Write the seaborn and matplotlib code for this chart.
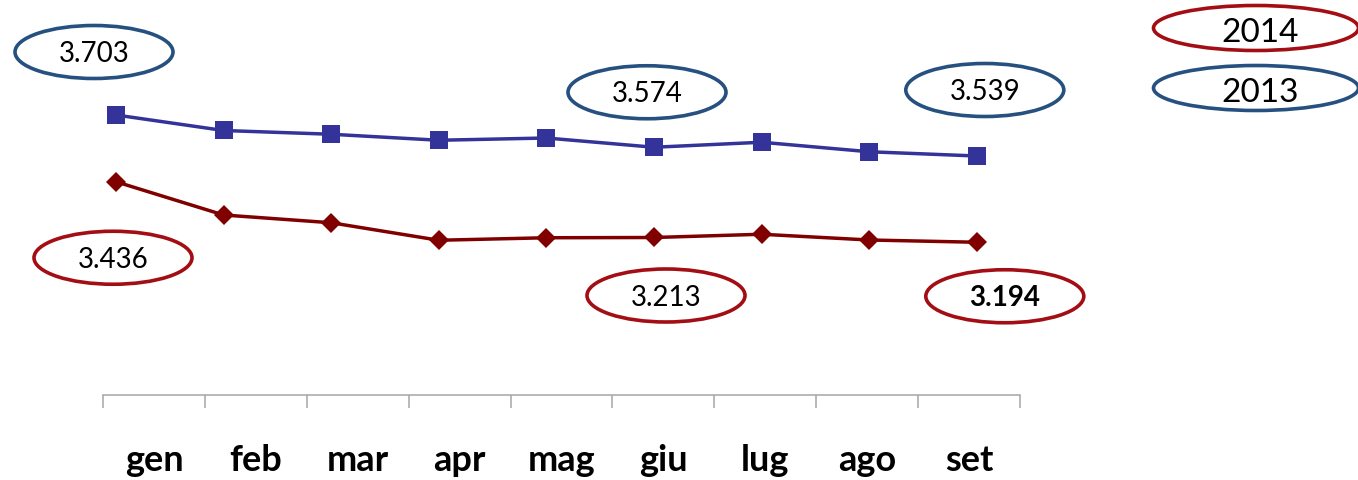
import matplotlib
matplotlib.use("Agg")
import matplotlib.pyplot as plt
import pandas as pd
import seaborn as sns
from matplotlib.patches import Ellipse
from matplotlib.transforms import Affine2D, ScaledTranslation

# ---- data -------------------------------------------------------------
months = ["gen", "feb", "mar", "apr", "mag", "giu", "lug", "ago", "set"]
values_2013 = [3.703, 3.641, 3.626, 3.602, 3.611, 3.574, 3.594, 3.556, 3.539]
values_2014 = [3.436, 3.303, 3.272, 3.202, 3.212, 3.213, 3.226, 3.203, 3.194]
years = ["2014", "2013"]

# ---- style ------------------------------------------------------------
BLUE_LINE = "#333399"
RED_LINE = "#800000"
BLUE_OVAL = "#25507F"
RED_OVAL = "#A30E14"
AXIS_GREY = "#A6A6A6"

sns.set_theme(style="white")
plt.rcParams["font.family"] = ["Lato", "DejaVu Sans"]

W, H = 1358, 480
fig = plt.figure(figsize=(W / 100, H / 100), dpi=100)
fig.patch.set_facecolor("white")

# plotting area for the two series (covers the whole canvas)
ax = fig.add_axes([0, 0, 1, 1])
ax.set_axis_off()
step_px = 107.6
first_px = 116
ax.set_xlim(-first_px / step_px, (W - first_px) / step_px)
ax.set_ylim(4.163 - H / 250.0, 4.163)

df13 = pd.DataFrame({"pos": range(len(months)), "value": values_2013})
df14 = pd.DataFrame({"pos": range(len(months)), "value": values_2014})

sns.lineplot(data=df13, x="pos", y="value", ax=ax, color=BLUE_LINE,
             linewidth=2.5, marker="s", markersize=13.5,
             markeredgewidth=0, markerfacecolor=BLUE_LINE)
sns.lineplot(data=df14, x="pos", y="value", ax=ax, color=RED_LINE,
             linewidth=2.5, marker="D", markersize=10.0,
             markeredgewidth=0, markerfacecolor=RED_LINE)


def oval_label(text, xy, dx, dy, edge, w=158, h=53, bold=False, size=20):
    """Oval callout offset (dx, dy) pixels from a data point."""
    base = ScaledTranslation(xy[0], xy[1], ax.transData)
    tr = Affine2D().translate(dx, dy) + base
    ax.add_patch(Ellipse((0, 0), w, h, transform=tr, facecolor="white",
                         edgecolor=edge, linewidth=2.6, clip_on=False,
                         zorder=5))
    size_px = size * 100 / 72.0
    ax.text(0, -0.36 * size_px, text, transform=tr, ha="center",
            va="baseline", fontsize=size, color="black",
            fontweight="bold" if bold else "normal", zorder=6)


def fmt(v):
    return f"{v:.3f}"


# value callouts for 2013
oval_label(fmt(values_2013[0]), (0, values_2013[0]), -22, 63, BLUE_OVAL)
oval_label(fmt(values_2013[5]), (5, values_2013[5]), -7, 55, BLUE_OVAL)
oval_label(fmt(values_2013[8]), (8, values_2013[8]), 8, 66, BLUE_OVAL)
# value callouts for 2014
oval_label(fmt(values_2014[0]), (0, values_2014[0]), -3, -76, RED_OVAL)
oval_label(fmt(values_2014[5]), (5, values_2014[5]), 12, -58, RED_OVAL)
oval_label(fmt(values_2014[8]), (8, values_2014[8]), 28, -54, RED_OVAL,
           bold=True)

# oval legend in the top-right corner
legend_specs = [(years[0], RED_OVAL, 28), (years[1], BLUE_OVAL, 88)]
for label, edge, cy in legend_specs:
    tr = Affine2D().translate(1256, H - cy)
    ax.add_patch(Ellipse((0, 0), 205, 45, transform=tr, facecolor="white",
                         edgecolor=edge, linewidth=2.6, clip_on=False,
                         zorder=5))
    ax.text(4, -0.36 * 24 * 100 / 72.0 - 2, label, transform=tr,
            ha="center", va="baseline", fontsize=24, color="black",
            zorder=6)

# category axis below the lines
cax = fig.add_axes([103 / W, 1 - 395 / H, 917 / W, 0.0001])
cax.set_facecolor("none")
cax.set_xlim(0, len(months))
cax.set_yticks([])
for side in ("top", "left", "right"):
    cax.spines[side].set_visible(False)
cax.spines["bottom"].set_color(AXIS_GREY)
cax.spines["bottom"].set_linewidth(1.1)
cax.set_xticks([i + 0.5 for i in range(len(months))])
cax.set_xticklabels(months, fontsize=26, fontweight="bold", color="black")
cax.set_xticks(range(len(months) + 1), minor=True)
cax.tick_params(axis="x", which="major", bottom=True, length=0, pad=35)
cax.tick_params(axis="x", which="minor", bottom=True, length=9.4, width=1.1,
                color=AXIS_GREY, direction="out")

fig.savefig("out.png", dpi=100, facecolor="white")
